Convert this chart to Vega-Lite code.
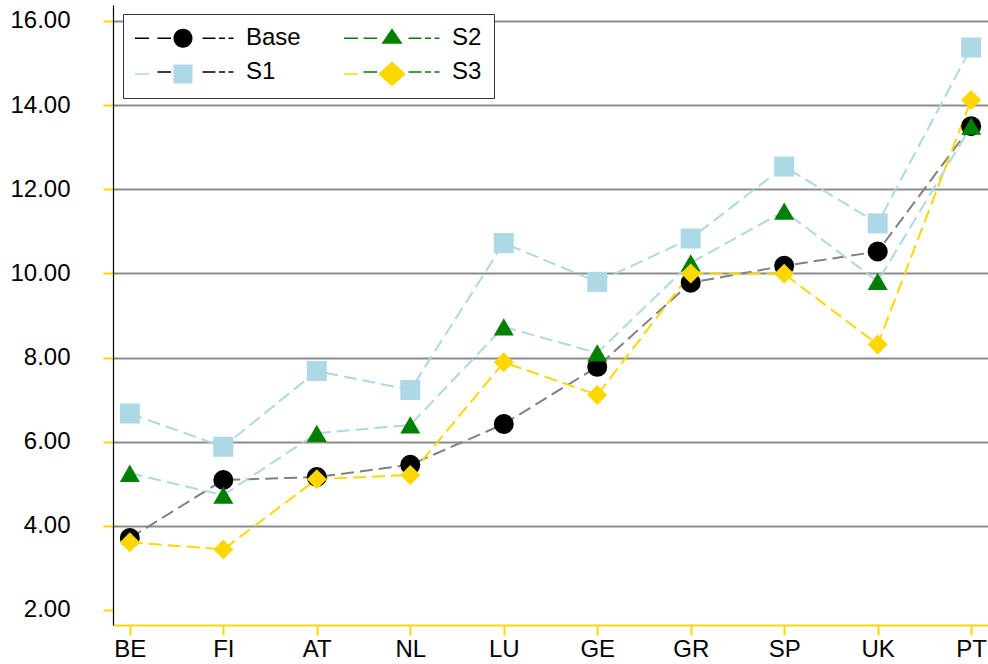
{
  "$schema": "https://vega.github.io/schema/vega-lite/v6.json",
  "width": 875,
  "height": 620,
  "autosize": "none",
  "padding": {"left": 113, "top": 5, "right": 0, "bottom": 39},
  "background": "white",
  "config": {"view": {"stroke": null}, "font": "Liberation Sans"},
  "data": {
    "values": [
      {"country": "BE", "series": "Base", "value": 3.71},
      {"country": "FI", "series": "Base", "value": 5.09},
      {"country": "AT", "series": "Base", "value": 5.16},
      {"country": "NL", "series": "Base", "value": 5.45},
      {"country": "LU", "series": "Base", "value": 6.42},
      {"country": "GE", "series": "Base", "value": 7.78},
      {"country": "GR", "series": "Base", "value": 9.78},
      {"country": "SP", "series": "Base", "value": 10.18},
      {"country": "UK", "series": "Base", "value": 10.52},
      {"country": "PT", "series": "Base", "value": 13.5},
      {"country": "BE", "series": "S1", "value": 6.67},
      {"country": "FI", "series": "S1", "value": 5.88},
      {"country": "AT", "series": "S1", "value": 7.68},
      {"country": "NL", "series": "S1", "value": 7.23},
      {"country": "LU", "series": "S1", "value": 10.72},
      {"country": "GE", "series": "S1", "value": 9.8},
      {"country": "GR", "series": "S1", "value": 10.83},
      {"country": "SP", "series": "S1", "value": 12.54},
      {"country": "UK", "series": "S1", "value": 11.19},
      {"country": "PT", "series": "S1", "value": 15.37},
      {"country": "BE", "series": "S2", "value": 5.25},
      {"country": "FI", "series": "S2", "value": 4.73},
      {"country": "AT", "series": "S2", "value": 6.2},
      {"country": "NL", "series": "S2", "value": 6.4},
      {"country": "LU", "series": "S2", "value": 8.73},
      {"country": "GE", "series": "S2", "value": 8.11},
      {"country": "GR", "series": "S2", "value": 10.25},
      {"country": "SP", "series": "S2", "value": 11.48},
      {"country": "UK", "series": "S2", "value": 9.81},
      {"country": "PT", "series": "S2", "value": 13.5},
      {"country": "BE", "series": "S3", "value": 3.61},
      {"country": "FI", "series": "S3", "value": 3.44},
      {"country": "AT", "series": "S3", "value": 5.11},
      {"country": "NL", "series": "S3", "value": 5.21},
      {"country": "LU", "series": "S3", "value": 7.89},
      {"country": "GE", "series": "S3", "value": 7.11},
      {"country": "GR", "series": "S3", "value": 10.0},
      {"country": "SP", "series": "S3", "value": 9.99},
      {"country": "UK", "series": "S3", "value": 8.31},
      {"country": "PT", "series": "S3", "value": 14.12}
    ]
  },
  "encoding": {
    "x": {
      "field": "country",
      "type": "nominal",
      "sort": null,
      "scale": {"type": "point", "padding": 0.18},
      "axis": {
        "title": null,
        "labelAngle": 0,
        "labelFontSize": 24,
        "labelColor": "#000000",
        "labelPadding": 2,
        "tickColor": "#FFD700",
        "tickSize": 10,
        "tickWidth": 2,
        "domainColor": "#FFD700",
        "domainWidth": 2,
        "grid": false
      }
    },
    "y": {
      "field": "value",
      "type": "quantitative",
      "scale": {"domain": [1.6434, 16.38], "nice": false, "zero": false},
      "axis": {
        "title": null,
        "values": [2, 4, 6, 8, 10, 12, 14, 16],
        "format": ".2f",
        "labelFontSize": 24,
        "labelColor": "#000000",
        "labelPadding": 33,
        "tickColor": "#FFD700",
        "tickSize": 10,
        "tickWidth": 2,
        "domainColor": "#000000",
        "domainWidth": 1.2,
        "grid": true,
        "gridColor": {"condition": {"test": "datum.value <= 2", "value": "transparent"}, "value": "#8C8C8C"},
        "gridWidth": 2
      }
    }
  },
  "layer": [
    {
      "mark": {"type": "line", "strokeDash": [13, 6], "strokeWidth": 2},
      "encoding": {
        "color": {
          "field": "series",
          "type": "nominal",
          "scale": {"domain": ["Base", "S1", "S2", "S3"], "range": ["#808080", "#ADD8E6", "#ADD8E6", "#FFD700"]},
          "legend": null
        }
      }
    },
    {
      "mark": {"type": "point", "filled": true, "opacity": 1},
      "encoding": {
        "color": {
          "field": "series",
          "type": "nominal",
          "scale": {"domain": ["Base", "S1", "S2", "S3"], "range": ["#000000", "#ADD8E6", "#008000", "#FFD700"]},
          "legend": null
        },
        "shape": {
          "field": "series",
          "type": "nominal",
          "scale": {"domain": ["Base", "S1", "S2", "S3"], "range": ["circle", "square", "triangle-up", "diamond"]},
          "legend": null
        },
        "size": {
          "field": "series",
          "type": "ordinal",
          "scale": {"domain": ["Base", "S1", "S2", "S3"], "range": [400, 400, 500, 729]},
          "legend": null
        }
      }
    },
    {
      "transform": [{"filter": "datum.series == 'none'"}],
      "mark": {"type": "point", "filled": false, "strokeWidth": 1.5, "size": 400, "opacity": 1},
      "encoding": {
        "color": {
          "field": "series",
          "type": "nominal",
          "scale": {"domain": ["Base", "S1", "S2", "S3"], "range": ["#000000", "#000000", "#008000", "#008000"]},
          "legend": {
            "orient": "none", "legendX": 10, "legendY": 9, "columns": 2, "columnPadding": 37, "rowPadding": 6,
            "padding": 12, "labelOffset": 87, "labelFontSize": 24, "labelFont": "Liberation Sans", "labelColor": "#000000",
            "labelLimit": 300, "symbolSize": 400, "symbolStrokeWidth": 1.5, "symbolOpacity": 1, "title": null,
            "fillColor": "white", "strokeColor": "#333333"
          }
        },
        "shape": {
          "field": "series",
          "type": "nominal",
          "scale": {
            "domain": ["Base", "S1", "S2", "S3"],
            "range": [
              "M1.05,0L2.4,0M5.55,0L6.85,0M7.2,0L7.8,0M8.15,0L8.65,0M-1.2,-1.05M8.65,1.05",
              "M1.05,0L2.4,0M5.55,0L6.85,0M7.2,0L7.8,0M8.15,0L8.65,0M-1.2,-1.05M8.65,1.05",
              "M1.05,0L2.4,0M5.55,0L6.85,0M7.2,0L7.8,0M8.15,0L8.65,0M-1.2,-1.05M8.65,1.05",
              "M1.05,0L2.4,0M5.55,0L6.85,0M7.2,0L7.8,0M8.15,0L8.65,0M-1.2,-1.05M8.65,1.05"
            ]
          },
          "legend": {
            "orient": "none", "legendX": 10, "legendY": 9, "columns": 2, "columnPadding": 37, "rowPadding": 6,
            "padding": 12, "labelOffset": 87, "labelFontSize": 24, "labelFont": "Liberation Sans", "labelColor": "#000000",
            "labelLimit": 300, "symbolSize": 400, "symbolStrokeWidth": 1.5, "symbolOpacity": 1, "title": null,
            "fillColor": "white", "strokeColor": "#333333"
          }
        }
      }
    },
    {
      "transform": [{"filter": "datum.series == 'none'"}],
      "mark": {"type": "point", "filled": true, "strokeWidth": 1.5, "size": 400, "opacity": 1},
      "encoding": {
        "color": {
          "field": "series",
          "type": "nominal",
          "scale": {"domain": ["Base", "S1", "S2", "S3"], "range": ["#000000", "#ADD8E6", "#008000", "#FFD700"]},
          "legend": {
            "orient": "none", "legendX": 10, "legendY": 9, "columns": 2, "columnPadding": 95, "rowPadding": 6,
            "padding": 12, "labelOffset": 87, "labelFontSize": 24, "labelFont": "Liberation Sans", "labelColor": "transparent",
            "labelExpr": "' '",
            "labelLimit": 300, "symbolSize": 400, "symbolStrokeWidth": 1.5, "symbolStrokeColor": "transparent", "symbolOpacity": 1, "title": null,
            "fillColor": "transparent", "strokeColor": "transparent"
          }
        },
        "shape": {
          "field": "series",
          "type": "nominal",
          "scale": {
            "domain": ["Base", "S1", "S2", "S3"],
            "range": [
              "M-1.2,-1.05M8.65,1.05M-1.2,-0.08L0.2,-0.08L0.2,0.08L-1.2,0.08ZM2.65,0A0.95,0.95,0,1,1,4.55,0A0.95,0.95,0,1,1,2.65,0Z",
              "M-1.2,-1.05M8.65,1.05M-1.2,-0.08L0.2,-0.08L0.2,0.08L-1.2,0.08ZM2.65,-0.95L4.55,-0.95L4.55,0.95L2.65,0.95Z",
              "M-1.2,-1.05M8.65,1.05M-1.2,-0.08L0.2,-0.08L0.2,0.08L-1.2,0.08ZM3.6,-1L4.65,0.55L2.55,0.55Z",
              "M-1.2,-1.05M8.65,1.05M-1.2,-0.08L0.2,-0.08L0.2,0.08L-1.2,0.08ZM3.6,-1.25L4.97,0L3.6,1.25L2.23,0Z"
            ]
          },
          "legend": {
            "orient": "none", "legendX": 10, "legendY": 9, "columns": 2, "columnPadding": 95, "rowPadding": 6,
            "padding": 12, "labelOffset": 87, "labelFontSize": 24, "labelFont": "Liberation Sans", "labelColor": "transparent",
            "labelExpr": "' '",
            "labelLimit": 300, "symbolSize": 400, "symbolStrokeWidth": 1.5, "symbolStrokeColor": "transparent", "symbolOpacity": 1, "title": null,
            "fillColor": "transparent", "strokeColor": "transparent"
          }
        }
      }
    }
  ],
  "resolve": {"scale": {"color": "independent", "shape": "independent", "size": "independent"}}
}
